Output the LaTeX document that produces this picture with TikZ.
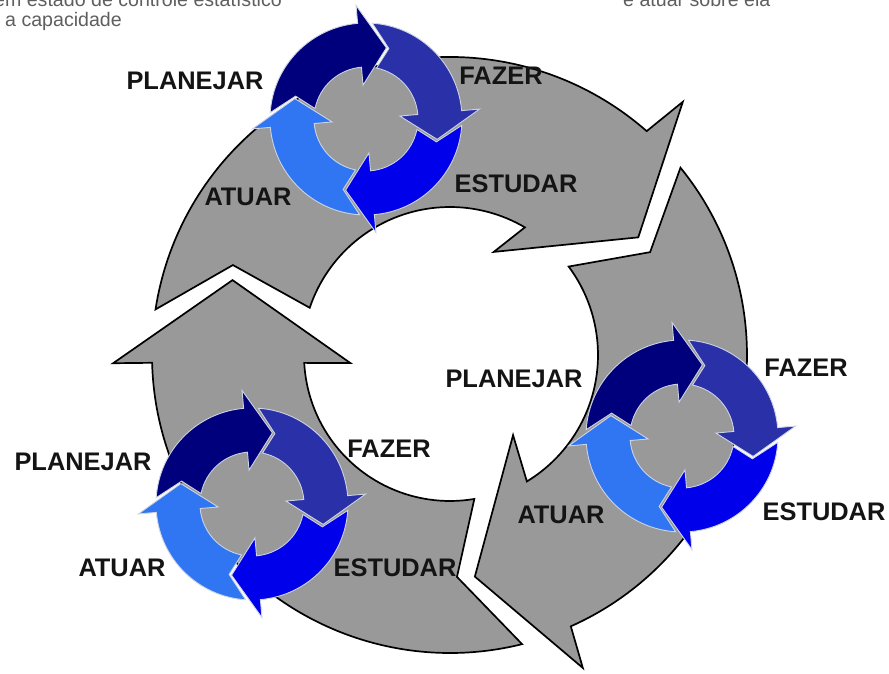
\documentclass[tikz,border=0pt]{standalone}
\usepackage{fontspec}
\setmainfont{Liberation Sans}
\definecolor{biggray}{RGB}{153,153,153}
\definecolor{navyA}{RGB}{0,0,125}
\definecolor{indigoB}{RGB}{42,48,168}
\definecolor{blueC}{RGB}{0,0,235}
\definecolor{lightD}{RGB}{48,118,242}
\definecolor{edgeL}{RGB}{205,212,228}
\definecolor{notegray}{RGB}{95,95,95}
\begin{document}
\begin{tikzpicture}[x=1pt,y=1pt,
  bigarrow/.style={fill=biggray, draw=black, line width=1.7pt, line join=miter},
  smallarrow/.style={draw=edgeL, line width=0.9pt, line join=miter},
  lab/.style={font=\bfseries\fontsize{25.4}{28}\selectfont, text=black!92, anchor=base, inner sep=0pt},
  note/.style={font=\fontsize{19.6}{22}\selectfont, text=notegray, inner sep=0pt},
  cyc/.pic={
    \fill[biggray] (0,0) circle[radius=52];
    \foreach \h/\c in {95/navyA, 5/indigoB, -85/blueC, -175/lightD}{
      \filldraw[smallarrow, fill=\c]
        (\h+81.2:96) arc[start angle=\h+81.2, end angle=\h, radius=96]
        -- (\h:114) -- (\h-21:74) -- (\h:34) -- (\h:52)
        arc[start angle=\h, end angle=\h+73.4, radius=52]
        -- (\h+67:74) -- cycle;
    }
  }]
\useasboundingbox (0,0) rectangle (889,673);
\fill[white] (0,0) rectangle (889,673);

% big gray cycle
\begin{scope}[shift={(450,318)}]
  % top arrow
  \filldraw[bigarrow] (171.2:298) arc[start angle=171.2, end angle=48.7, radius=298]
    -- (47.4:344) -- (32:222) -- (67:112) -- (59.6:148)
    arc[start angle=59.6, end angle=161.4, radius=148]
    -- (157.5:235) -- cycle;
  % right arrow
  \filldraw[bigarrow] (39.1:297) arc[start angle=39.1, end angle=-66, radius=297]
    -- (-67:340) -- (-83.6:223) -- (-51.8:102) -- (-58.7:148)
    arc[start angle=-58.7, end angle=36.7, radius=148]
    -- (27.2:225) -- cycle;
  % left arrow
  \filldraw[bigarrow] (-76:298) arc[start angle=-76, end angle=-178.5, radius=298]
    -- (-178.6:337) -- (161:230) -- (-175.4:100) -- (-176.9:146)
    arc[start angle=-176.9, end angle=-80.4, radius=146]
    -- (-88.2:222) -- cycle;
\end{scope}

% small cycles
\pic at (366,554) {cyc};
\pic at (682,237) {cyc};
\pic at (252,169) {cyc};

% labels, top cycle
\node[lab] (t1) at (195,583) {PLANEJAR};
\node[lab] (t2) at (501,588) {FAZER};
\node[lab] (t3) at (516,480) {ESTUDAR};
\node[lab] (t4) at (248,467) {ATUAR};
% labels, right cycle
\node[lab] (r1) at (514,285) {PLANEJAR};
\node[lab] (r2) at (806,296) {FAZER};
\node[lab] (r3) at (824,153) {ESTUDAR};
\node[lab] (r4) at (561,150) {ATUAR};
% labels, bottom-left cycle
\node[lab] (b1) at (83,203) {PLANEJAR};
\node[lab] (b2) at (389,216) {FAZER};
\node[lab] (b3) at (395,97) {ESTUDAR};
\node[lab] (b4) at (122,97) {ATUAR};

% cut-off notes at the top
\node[note, anchor=base east] (n1) at (282,666) {em estado de controle estatístico};
\node[note, anchor=base west] (n2) at (5,646) {a capacidade};
\node[note, anchor=base west] (n3) at (623,666) {e atuar sobre ela};
\end{tikzpicture}
\end{document}
